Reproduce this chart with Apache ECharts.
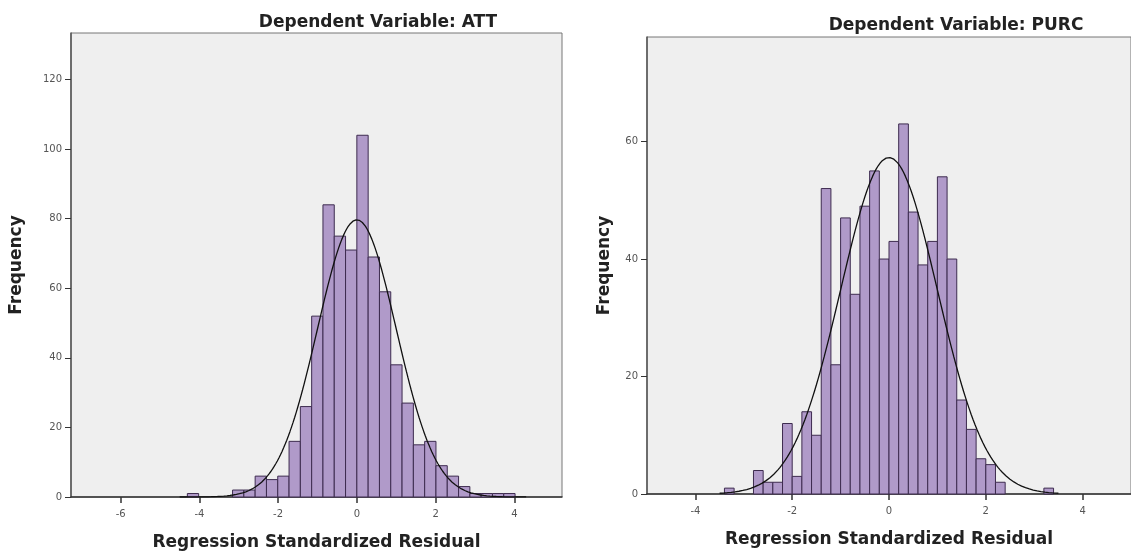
<!DOCTYPE html>
<html>
<head>
<meta charset="utf-8">
<script src="https://cdn.jsdelivr.net/npm/echarts@6/dist/echarts.min.js"></script>
<style>
  html, body { margin: 0; padding: 0; background: #fff; }
  #main { width: 1131px; height: 556px; }
</style>
</head>
<body>
<div id="main"></div>
<script>
// ATT histogram: bins of equal width, first bin index counted from 0
var attBinWidth = 0.287;
var attFirstBin = -15;
var attCounts = [1, 0, 0, 0, 2, 2, 6, 5, 6, 16, 26, 52, 84, 75, 71, 104, 69, 59, 38, 27, 15, 16, 9, 6, 3, 1, 1, 1, 1];
var attMean = 0;
var attSd = 1;

// PURC histogram
var purcBinWidth = 0.2;
var purcFirstBin = -17;
var purcCounts = [1, 0, 0, 4, 2, 2, 12, 3, 14, 10, 52, 22, 47, 34, 49, 55, 40, 43, 63, 48, 39, 43, 54, 40, 16, 11, 6, 5, 2, 0, 0, 0, 0, 1];
var purcMean = 0;
var purcSd = 1;

var attXTicks = [-6, -4, -2, 0, 2, 4];
var attYTicks = [0, 20, 40, 60, 80, 100, 120];
var purcXTicks = [-4, -2, 0, 2, 4];
var purcYTicks = [0, 20, 40, 60];

var FONT = 'DejaVu Sans';
var BAR_FILL = '#b09ac9';
var BAR_LINE = '#3d2b4f';

function binData(first, width, counts) {
  var out = [];
  for (var i = 0; i < counts.length; i++) {
    if (counts[i] > 0) {
      var lo = (first + i) * width;
      out.push([lo, lo + width, counts[i]]);
    }
  }
  return out;
}

// fitted normal curve, scaled to the histogram (N * bin width)
function normalCurve(counts, width, mean, sd, from, to) {
  var n = counts.reduce(function (a, b) { return a + b; }, 0);
  var pts = [];
  for (var x = from; x <= to + 1e-9; x += 0.04) {
    var z = (x - mean) / sd;
    pts.push([x, n * width * Math.exp(-0.5 * z * z) / (sd * Math.sqrt(2 * Math.PI))]);
  }
  return pts;
}

function renderBar(params, api) {
  var p0 = api.coord([api.value(0), 0]);
  var p1 = api.coord([api.value(1), api.value(2)]);
  return {
    type: 'rect',
    shape: { x: p0[0], y: p1[1], width: p1[0] - p0[0], height: p0[1] - p1[1] },
    style: { fill: BAR_FILL, stroke: BAR_LINE, lineWidth: 1 }
  };
}

function xAxisCfg(idx, min, max, ticks) {
  return {
    type: 'value', gridIndex: idx, min: min, max: max,
    name: 'Regression Standardized Residual', nameLocation: 'middle', nameGap: 37,
    nameTextStyle: { fontFamily: FONT, fontWeight: 'bold', fontSize: 17, color: '#222' },
    axisLine: { onZero: false, lineStyle: { color: '#333', width: 1.5 } },
    axisTick: { show: true, length: 6, customValues: ticks, lineStyle: { color: '#333', width: 1.5 } },
    axisLabel: { customValues: ticks, margin: 12, fontFamily: FONT, fontSize: 10, color: '#555' },
    splitLine: { show: false }
  };
}

function yAxisCfg(idx, max, ticks, gap) {
  return {
    type: 'value', gridIndex: idx, min: 0, max: max,
    name: 'Frequency', nameLocation: 'middle', nameGap: gap, nameRotate: 90,
    nameTextStyle: { fontFamily: FONT, fontWeight: 'bold', fontSize: 17, color: '#222' },
    axisLine: { show: true, onZero: false, lineStyle: { color: '#555', width: 1.5 } },
    axisTick: { show: true, length: 6, customValues: ticks, lineStyle: { color: '#333' } },
    axisLabel: { customValues: ticks, margin: 9, fontFamily: FONT, fontSize: 10, color: '#555' },
    splitLine: { show: false }
  };
}

var myChart = echarts.init(document.getElementById('main'));
var option = {
  animation: false,
  title: [
    { text: 'Dependent Variable: ATT', left: 373, top: 9, textAlign: 'center',
      textStyle: { fontFamily: FONT, fontWeight: 'bold', fontSize: 17, color: '#222' } },
    { text: 'Dependent Variable: PURC', left: 951, top: 12, textAlign: 'center',
      textStyle: { fontFamily: FONT, fontWeight: 'bold', fontSize: 17, color: '#222' } }
  ],
  grid: [
    { left: 71, right: 569, top: 33, bottom: 57, show: true, backgroundColor: '#efefef', borderColor: '#777', borderWidth: 1 },
    { left: 647, right: -6, top: 37, bottom: 62, show: true, backgroundColor: '#efefef', borderColor: '#777', borderWidth: 1 }
  ],
  xAxis: [
    xAxisCfg(0, -7.26, 5.21, attXTicks),
    xAxisCfg(1, -5, 5, purcXTicks)
  ],
  yAxis: [
    yAxisCfg(0, 133.4, attYTicks, 46),
    yAxisCfg(1, 77.8, purcYTicks, 34)
  ],
  series: [
    {
      type: 'custom', xAxisIndex: 0, yAxisIndex: 0,
      renderItem: renderBar,
      data: binData(attFirstBin, attBinWidth, attCounts)
    },
    {
      type: 'line', xAxisIndex: 0, yAxisIndex: 0, showSymbol: false, silent: true,
      lineStyle: { color: '#111', width: 1.3 },
      data: normalCurve(attCounts, attBinWidth, attMean, attSd, -4.5, 4.3)
    },
    {
      type: 'custom', xAxisIndex: 1, yAxisIndex: 1,
      renderItem: renderBar,
      data: binData(purcFirstBin, purcBinWidth, purcCounts)
    },
    {
      type: 'line', xAxisIndex: 1, yAxisIndex: 1, showSymbol: false, silent: true,
      lineStyle: { color: '#111', width: 1.3 },
      data: normalCurve(purcCounts, purcBinWidth, purcMean, purcSd, -3.5, 3.5)
    }
  ]
};
myChart.setOption(option);
</script>
</body>
</html>
